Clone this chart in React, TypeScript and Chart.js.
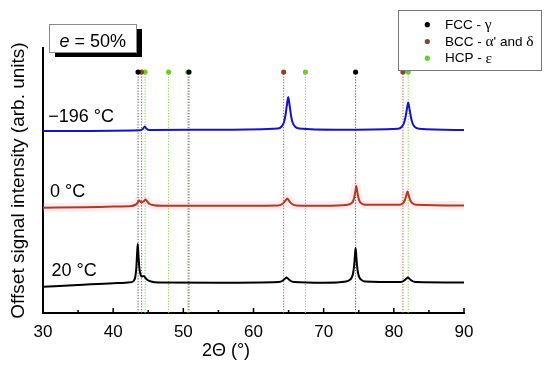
import React, { useEffect, useRef } from 'react';
import { Chart, registerables } from 'chart.js';

Chart.register(...registerables);

// ---- data ----
const xTickValues = [30, 40, 50, 60, 70, 80, 90];
const seriesLabels = ['−196 °C', '0 °C', '20 °C'];
const phaseNames = ['FCC - γ', "BCC - α' and δ", 'HCP - ε'];

// 20 °C (black)
const theta20 = [30, 35, 40, 42.5, 42.9, 43.15, 43.3, 43.4, 43.5, 43.6, 43.72, 43.88, 44.05, 44.25, 44.4, 44.6, 44.9, 45.4, 46.5, 55, 63.6, 64.2, 64.5, 64.7, 64.9, 65.2, 65.8, 70, 73.2, 73.7, 74.0, 74.2, 74.35, 74.45, 74.55, 74.65, 74.75, 74.9, 75.1, 75.4, 75.9, 81.0, 81.5, 81.8, 82.0, 82.2, 82.5, 83.1, 90];
const int20 = [26.3, 28, 29.8, 30.8, 32, 36, 45, 58, 69, 58, 46, 39, 36.5, 36.8, 37, 35, 33, 31.5, 30.5, 30.3, 31, 32.5, 34.5, 35.5, 34.5, 32.5, 31, 30.3, 31.5, 33, 35.5, 40, 48, 57, 65, 57, 48, 40, 35.5, 33, 31.5, 31, 32.5, 34.5, 35.5, 34.5, 32.5, 31, 30.5];

// 0 °C (red-brown)
const theta0 = [30, 36, 40, 42.6, 43.1, 43.4, 43.7, 43.95, 44.15, 44.4, 44.6, 44.85, 45.2, 45.8, 47, 55, 63.5, 64.1, 64.45, 64.8, 65.15, 65.5, 66.1, 70, 73.4, 73.9, 74.2, 74.4, 74.55, 74.65, 74.75, 74.9, 75.1, 75.4, 75.9, 80.8, 81.3, 81.55, 81.75, 81.95, 82.15, 82.35, 82.65, 83.2, 90];
const int0 = [105.3, 105.8, 106.4, 107, 108, 109.5, 112.5, 111, 110.8, 112, 113.5, 111.5, 109, 107.8, 107.3, 107.3, 107.6, 109, 111.5, 114.5, 111.5, 109, 107.6, 107.3, 108.3, 109.5, 112, 117, 123, 127, 123, 117, 112, 109.5, 108.3, 108.3, 109.8, 112.5, 117, 121.5, 117, 112.5, 109.8, 108.3, 107.5];

// −196 °C (blue)
const theta196 = [30, 43.9, 44.25, 44.5, 44.75, 45.2, 55, 63.5, 64.0, 64.35, 64.55, 64.75, 64.95, 65.15, 65.35, 65.55, 65.9, 66.5, 72, 80.6, 81.1, 81.45, 81.65, 81.85, 82.05, 82.25, 82.45, 82.65, 83.0, 83.6, 90];
const int196 = [182, 182.8, 184.3, 186.5, 184.3, 183, 183.3, 184.5, 186.5, 191, 197.5, 207.5, 216, 207.5, 197.5, 191, 186.5, 184.5, 183.3, 184.3, 186, 190, 195.5, 203.5, 210.5, 203.5, 195.5, 190, 186, 184.3, 183];

// reference peak positions (2Θ)
const fccPeaks = [43.55, 50.8, 74.55];
const bccPeaks = [44.05, 64.3, 81.3];
const hcpPeaks = [44.55, 47.9, 50.65, 67.4, 82.05];
const markerLevel = 241;

// ---- styles ----
const SANS = '"Liberation Sans", Arial, Helvetica, sans-serif';
const SERIF = '"Liberation Serif", "Times New Roman", serif';
const BLUE = '#1414cc';
const RED = '#b03c1c';
const FCC_COL = '#000000';
const BCC_COL = '#8e4420';
const HCP_COL = '#6ccc2a';

const toXY = (xs: number[], ys: number[]) => xs.map((x, i) => ({ x, y: ys[i] }));
const phaseLines = (ps: number[]) => {
  const out: any[] = [];
  ps.forEach((p) => {
    out.push({ x: p, y: 0 });
    out.push({ x: p, y: markerLevel });
    out.push({ x: p, y: null });
  });
  return out;
};

const isGreek = (ch: string) => /[\u0370-\u03ff]/.test(ch);

const decorPlugin = {
  id: 'decor',
  afterDraw(chart: any) {
    const { ctx, chartArea } = chart;
    const xs = chart.scales.x;
    const ys = chart.scales.y;
    ctx.save();

    // inward ticks on x axis
    ctx.strokeStyle = '#000';
    ctx.lineWidth = 1.5;
    for (let v = 30; v <= 90; v += 5) {
      const px = xs.getPixelForValue(v);
      const len = v % 10 === 0 ? 5 : 3;
      ctx.beginPath();
      ctx.moveTo(px, chartArea.bottom);
      ctx.lineTo(px, chartArea.bottom - len);
      ctx.stroke();
    }

    // x title
    ctx.fillStyle = '#000';
    ctx.font = `18px ${SANS}`;
    ctx.textAlign = 'center';
    ctx.textBaseline = 'alphabetic';
    ctx.fillText('2Θ (°)', 226, 356);

    // curve labels
    ctx.textAlign = 'left';
    ctx.font = `18px ${SANS}`;
    const lx = [30.75, 31.0, 31.2];
    const ly = [191.3, 116.3, 37.3];
    seriesLabels.forEach((t, i) => {
      ctx.fillText(t, xs.getPixelForValue(lx[i]), ys.getPixelForValue(ly[i]));
    });

    // e = 50% box with shadow
    ctx.fillStyle = '#000';
    ctx.fillRect(55, 29, 87, 28);
    ctx.fillStyle = '#fff';
    ctx.fillRect(49.5, 24.5, 87, 28);
    ctx.strokeStyle = '#8a8a8a';
    ctx.lineWidth = 1;
    ctx.strokeRect(49.5, 24.5, 87, 28);
    ctx.fillStyle = '#000';
    ctx.font = `italic 18px ${SANS}`;
    ctx.fillText('e', 59.5, 46.5);
    const ew = ctx.measureText('e').width;
    ctx.font = `18px ${SANS}`;
    ctx.fillText(' = 50%', 59.5 + ew, 46.5);

    // legend
    ctx.fillStyle = '#fff';
    ctx.fillRect(398.5, 10.5, 143, 60);
    ctx.strokeStyle = '#777';
    ctx.lineWidth = 1;
    ctx.strokeRect(398.5, 10.5, 143, 60);
    const cols = [FCC_COL, BCC_COL, HCP_COL];
    const rowsY = [24.7, 41.5, 58.2];
    phaseNames.forEach((name, i) => {
      ctx.fillStyle = cols[i];
      ctx.beginPath();
      ctx.arc(427.3, rowsY[i], 2.6, 0, Math.PI * 2);
      ctx.fill();
      ctx.fillStyle = '#000';
      ctx.textBaseline = 'middle';
      let cx = 445;
      for (const ch of name) {
        ctx.font = isGreek(ch) ? `15.5px ${SERIF}` : `13.5px ${SANS}`;
        ctx.fillText(ch, cx, rowsY[i] + 0.5);
        cx += ctx.measureText(ch).width;
      }
    });

    ctx.restore();
  },
};

export default function App() {
  const ref = useRef<HTMLCanvasElement | null>(null);

  useEffect(() => {
    if (!ref.current) return;
    const dotR = (c: any) => (c.raw && c.raw.y === markerLevel ? 2.6 : 0);
    const chart = new Chart(ref.current, {
      type: 'line',
      data: {
        datasets: [
          { label: seriesLabels[0], data: toXY(theta196, int196), borderColor: BLUE, borderWidth: 2, pointRadius: 0, cubicInterpolationMode: 'monotone', order: 0 },
          { label: seriesLabels[1], data: toXY(theta0, int0), borderColor: RED, borderWidth: 2, pointRadius: 0, cubicInterpolationMode: 'monotone', order: 0 },
          { label: seriesLabels[2], data: toXY(theta20, int20), borderColor: '#000', borderWidth: 2, pointRadius: 0, cubicInterpolationMode: 'monotone', order: 0 },
          { label: 'halo', data: toXY(theta0, int0), borderColor: 'rgba(255,170,210,0.22)', borderWidth: 9, pointRadius: 0, cubicInterpolationMode: 'monotone', order: 2 },
          { label: phaseNames[0], data: phaseLines(fccPeaks), borderColor: '#555', borderWidth: 1, borderDash: [1.2, 1.6], spanGaps: false, pointRadius: dotR, pointBackgroundColor: FCC_COL, pointBorderWidth: 0, order: 1 },
          { label: phaseNames[1], data: phaseLines(bccPeaks), borderColor: '#b0523a', borderWidth: 1, borderDash: [1.2, 1.6], spanGaps: false, pointRadius: dotR, pointBackgroundColor: BCC_COL, pointBorderWidth: 0, order: 1 },
          { label: phaseNames[2], data: phaseLines(hcpPeaks), borderColor: '#7fcf3f', borderWidth: 1, borderDash: [1.2, 1.6], spanGaps: false, pointRadius: dotR, pointBackgroundColor: HCP_COL, pointBorderWidth: 0, order: 1 },
        ],
      },
      options: {
        animation: false,
        responsive: false,
        devicePixelRatio: 1,
        layout: { padding: { top: 48, right: 86, left: 0, bottom: 0 } },
        plugins: { legend: { display: false }, tooltip: { enabled: false } },
        scales: {
          x: {
            type: 'linear',
            min: 30,
            max: 90,
            afterFit: (s: any) => { s.height = 55; },
            grid: { display: false, drawTicks: false },
            border: { display: true, color: '#000', width: 2 },
            ticks: { stepSize: 10, color: '#000', font: { family: SANS, size: 17 }, padding: 9, maxRotation: 0, callback: (v: any) => (xTickValues.includes(v) ? String(v) : '') },
          },
          y: {
            type: 'linear',
            min: 0,
            max: 265,
            afterFit: (s: any) => { s.width = 43; },
            grid: { display: false, drawTicks: false },
            border: { display: true, color: '#000', width: 2 },
            ticks: { display: false },
            title: { display: true, text: 'Offset signal intensity (arb. units)', color: '#000', font: { family: SANS, size: 19 }, padding: { top: 7, bottom: 0 } },
          },
        },
      },
      plugins: [decorPlugin],
    } as any);
    return () => chart.destroy();
  }, []);

  return (
    <div style={{ position: 'absolute', left: 0, top: 0, width: 550, height: 368, background: '#fff' }}>
      <canvas ref={ref} width={550} height={368} style={{ width: 550, height: 368, display: 'block' }} />
    </div>
  );
}
